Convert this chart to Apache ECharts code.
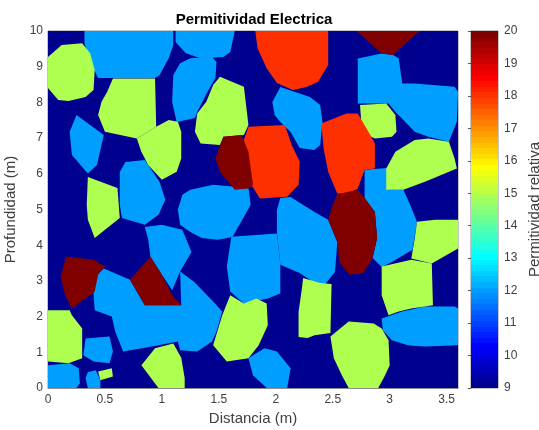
<!DOCTYPE html>
<html>
<head>
<meta charset="utf-8">
<script src="https://cdn.jsdelivr.net/npm/echarts@6/dist/echarts.min.js"></script>
<style>
  html, body { margin: 0; padding: 0; background: #ffffff; }
  #chart { width: 539px; height: 430px; }
</style>
</head>
<body>
<div id="chart"></div>
<script>
// Relative permittivity of each class of material
const permFondo = 9;
const permAzul = 12;
const permVerde = 15;
const permNaranja = 18;
const permGranate = 20;

// Section extent: distance (m) and depth (m)
const limitesX = [0, 3.6];
const limitesY = [0, 10];
const rangoColor = [9, 20];

// Tick values
const ticksX = [0, 0.5, 1, 1.5, 2, 2.5, 3, 3.5];
const ticksY = [0, 1, 2, 3, 4, 5, 6, 7, 8, 9, 10];
const ticksColor = [9, 10, 11, 12, 13, 14, 15, 16, 17, 18, 19, 20];

// Inclusion outlines, [distance, depth] vertices in metres
const poligonosAzul = [
  [[0.32,10],[0.32,9.66],[0.37,9.13],[0.44,8.68],[0.94,8.68],[0.98,8.77],[1.06,9.24],[1.10,9.61],[1.10,10]],
  [[1.12,10],[1.64,10],[1.60,9.41],[1.54,9.27],[1.34,9.24],[1.21,9.38],[1.12,9.69]],
  [[0.25,7.65],[0.49,7.09],[0.43,6.25],[0.35,6.01],[0.21,6.53],[0.19,7.18]],
  [[0.68,6.33],[0.85,6.39],[0.98,5.77],[1.03,5.27],[1.01,5.13],[0.97,4.85],[0.85,4.57],[0.65,4.76],[0.63,5.13],[0.63,6.05]],
  [[1.25,9.24],[1.44,9.27],[1.48,9.13],[1.47,8.68],[1.40,8.29],[1.31,7.73],[1.29,7.56],[1.13,7.45],[1.09,8.01],[1.10,8.77],[1.16,9.10]],
  [[1.97,8.01],[2.04,8.43],[2.17,8.29],[2.30,8.15],[2.39,7.93],[2.41,7.45],[2.39,6.81],[2.34,6.67],[2.21,6.72],[2.13,7.17],[2.04,7.45],[1.99,7.65]],
  [[2.72,9.23],[2.93,9.37],[3.03,9.33],[3.08,9.23],[3.11,8.53],[3.22,8.53],[3.57,8.44],[3.6,8.30],[3.59,7.46],[3.52,6.90],[3.34,7.04],[3.22,7.18],[3.05,7.74],[2.99,7.97],[2.72,7.97],[2.72,8.67]],
  [[2.78,6.11],[2.98,6.16],[2.99,5.55],[3.12,5.55],[3.18,5.13],[3.24,4.65],[3.20,3.87],[3.02,3.53],[2.93,3.39],[2.85,3.64],[2.89,4.20],[2.87,4.93],[2.78,5.32]],
  [[2.04,5.32],[2.13,5.35],[2.34,4.93],[2.46,4.71],[2.54,4.09],[2.52,3.25],[2.43,2.89],[2.34,2.94],[2.21,3.22],[2.04,3.45],[2.01,4.37],[2.01,4.99]],
  [[1.25,5.55],[1.45,5.69],[1.76,5.60],[1.78,5.13],[1.62,4.23],[1.49,4.15],[1.35,4.20],[1.25,4.37],[1.16,4.57],[1.14,4.99],[1.18,5.41]],
  [[1.61,4.24],[2.01,4.33],[2.04,3.45],[2.04,2.65],[1.93,2.51],[1.72,2.37],[1.60,2.70],[1.57,3.40]],
  [[1.76,0.83],[1.90,1.11],[2.01,1.02],[2.13,0.55],[2.10,0],[1.92,0],[1.80,0.36]],
  [[2.93,1.95],[3.11,2.14],[3.31,2.28],[3.57,2.28],[3.6,2.23],[3.6,1.20],[3.31,1.16],[3.16,1.20],[3.02,1.34],[2.94,1.62]],
  [[0,0.64],[0.19,0.69],[0.27,0.55],[0.28,0.13],[0.25,0],[0,0]],
  [[0.33,1.39],[0.54,1.44],[0.57,1.02],[0.54,0.69],[0.40,0.74],[0.31,0.92]],
  [[0.35,0.45],[0.42,0.50],[0.46,0.22],[0.46,0],[0.35,0],[0.33,0.28]],
  [[0.49,3.35],[0.72,3.03],[0.85,2.32],[1.17,2.32],[1.20,1.62],[1.14,1.30],[0.91,1.16],[0.66,1.02],[0.59,1.58],[0.56,2.00],[0.41,2.18],[0.40,2.65],[0.41,3.12]],
  [[1.16,3.26],[1.28,2.98],[1.45,2.42],[1.53,2.14],[1.48,1.58],[1.44,1.30],[1.31,1.02],[1.16,1.06],[1.14,1.30],[1.17,2.32]],
  [[0.85,4.51],[1.00,4.57],[1.18,4.43],[1.26,3.81],[1.16,3.26],[1.09,2.74],[1.00,3.17],[0.90,3.67],[0.88,4.15]]
];

const poligonosVerde = [
  [[0,9.27],[0.12,9.61],[0.30,9.66],[0.37,9.38],[0.41,8.91],[0.40,8.35],[0.33,8.15],[0.18,8.04],[0.09,8.07],[0,8.40]],
  [[0.57,8.67],[0.94,8.67],[0.95,7.32],[0.78,6.99],[0.50,7.18],[0.44,7.65],[0.47,8.02],[0.52,8.30]],
  [[0.95,7.32],[1.06,7.51],[1.14,7.46],[1.17,7.18],[1.17,6.43],[1.13,6.06],[1.00,5.83],[0.88,6.25],[0.82,6.62],[0.78,6.99]],
  [[0.35,5.91],[0.61,5.60],[0.63,4.76],[0.41,4.20],[0.35,4.71],[0.34,5.13]],
  [[1.51,8.72],[1.72,8.44],[1.76,7.37],[1.72,7.09],[1.54,7.04],[1.51,6.81],[1.34,6.85],[1.29,7.18],[1.31,7.69],[1.39,8.02],[1.45,8.49]],
  [[2.74,7.93],[2.97,7.97],[3.05,7.65],[3.06,7.18],[3.02,7.04],[2.87,6.99],[2.78,7.13],[2.75,7.46]],
  [[3.05,6.62],[3.22,6.95],[3.34,6.99],[3.52,6.90],[3.57,6.43],[3.59,6.15],[3.31,5.78],[3.12,5.55],[2.97,5.55],[2.97,6.15]],
  [[1.60,2.60],[1.72,2.37],[1.83,2.51],[1.92,2.37],[1.93,1.76],[1.85,1.20],[1.76,0.83],[1.57,0.74],[1.45,1.20],[1.53,2.04]],
  [[2.24,3.08],[2.39,2.94],[2.49,2.91],[2.48,1.54],[2.34,1.48],[2.28,1.40],[2.20,1.43],[2.20,2.13],[2.23,2.80]],
  [[3.24,4.66],[3.40,4.71],[3.6,4.71],[3.6,3.91],[3.37,3.49],[3.19,3.63],[3.22,4.19]],
  [[2.93,3.40],[3.19,3.59],[3.37,3.49],[3.38,2.32],[3.19,2.23],[3.08,2.14],[2.99,2.04],[2.93,2.60]],
  [[2.48,1.44],[2.64,1.86],[2.86,1.81],[2.93,1.67],[2.99,1.34],[3.00,0.64],[2.96,0.36],[2.90,0],[2.64,0],[2.58,0.36],[2.51,0.83]],
  [[0,2.18],[0.19,2.18],[0.21,2.04],[0.30,1.67],[0.30,0.83],[0.18,0.69],[0,0.74]],
  [[0.44,0.46],[0.56,0.55],[0.57,0.32],[0.46,0.22]],
  [[0.82,0.64],[0.94,1.11],[1.10,1.25],[1.17,0.85],[1.20,0.28],[1.20,0],[0.97,0]]
];

const poligonosNaranja = [
  [[1.76,7.32],[2.08,7.37],[2.14,6.81],[2.21,6.34],[2.20,5.69],[2.10,5.36],[1.86,5.31],[1.77,5.78],[1.72,6.95]],
  [[1.82,10],[2.46,10],[2.46,9.05],[2.37,8.57],[2.27,8.43],[2.15,8.35],[2.01,8.54],[1.92,8.96],[1.84,9.52]],
  [[2.40,7.41],[2.62,7.69],[2.72,7.69],[2.83,7.09],[2.87,6.85],[2.87,6.15],[2.78,6.11],[2.72,5.59],[2.64,5.45],[2.54,5.45],[2.46,6.06],[2.42,6.71]]
];

const poligonosGranate = [
  [[1.54,7.04],[1.70,7.09],[1.76,6.62],[1.80,5.69],[1.76,5.59],[1.64,5.55],[1.51,6.06],[1.47,6.43],[1.50,6.71]],
  [[2.71,10],[3.27,10],[3.22,9.89],[3.03,9.33],[2.93,9.37],[2.78,9.80]],
  [[2.54,5.43],[2.72,5.55],[2.78,5.32],[2.87,4.93],[2.89,4.20],[2.85,3.64],[2.77,3.22],[2.65,3.17],[2.56,3.50],[2.54,4.09],[2.46,4.71],[2.50,5.13]],
  [[0.16,3.68],[0.40,3.59],[0.50,3.40],[0.44,3.17],[0.41,2.70],[0.21,2.23],[0.15,2.60],[0.11,3.12]],
  [[0.90,3.68],[1.00,3.17],[1.09,2.60],[1.17,2.32],[0.85,2.32],[0.72,3.03]]
];

// MATLAB-style jet colormap with 64 rows
const NIVELES = 64;
function jetFila(k) {
  const n = NIVELES / 4;
  const u = i => {
    if (i < 1 || i > 3 * n - 1) return 0;
    if (i <= n) return i / n;
    if (i <= 2 * n - 1) return 1;
    return (3 * n - i) / n;
  };
  const g = u(k - n / 2);
  const r = u(k - n / 2 - n);
  const b = u(k - n / 2 + n);
  return 'rgb(' + Math.round(r * 255) + ',' + Math.round(g * 255) + ',' + Math.round(b * 255) + ')';
}
function colorPerm(v) {
  const t = (v - rangoColor[0]) / (rangoColor[1] - rangoColor[0]);
  const k = Math.max(1, Math.min(NIVELES, Math.floor(t * NIVELES) + 1));
  return jetFila(k);
}

// Region list drawn in order: background first, then the inclusions
const regiones = [{
  valor: permFondo,
  vertices: [[limitesX[0], limitesY[0]], [limitesX[1], limitesY[0]], [limitesX[1], limitesY[1]], [limitesX[0], limitesY[1]]]
}];
[[poligonosAzul, permAzul], [poligonosVerde, permVerde], [poligonosNaranja, permNaranja], [poligonosGranate, permGranate]]
  .forEach(([lista, valor]) => lista.forEach(v => regiones.push({ valor: valor, vertices: v })));

// Stepped gradient for the colour bar
const paradas = [];
for (let k = 1; k <= NIVELES; k++) {
  const c = jetFila(k);
  paradas.push({ offset: (k - 1) / NIVELES, color: c });
  paradas.push({ offset: k / NIVELES, color: c });
}

const grisEje = '#8c8c8c';
const grisTexto = '#404040';
const fuente = '"Liberation Sans", Arial, Helvetica, sans-serif';

const chart = echarts.init(document.getElementById('chart'), null, { renderer: 'canvas' });
chart.setOption({
  animation: false,
  backgroundColor: '#ffffff',
  title: {
    text: 'Permitividad Electrica',
    left: 249,
    textAlign: 'center',
    top: 7,
    textStyle: { fontFamily: fuente, fontSize: 15, fontWeight: 'bold', color: '#000000' }
  },
  grid: [
    { left: 48, top: 31, width: 410, height: 357, outerBoundsMode: 'none', containLabel: false,
      show: true, borderColor: grisEje, borderWidth: 1, backgroundColor: 'transparent' },
    { left: 471, top: 31, width: 27, height: 357, outerBoundsMode: 'none', containLabel: false,
      show: true, borderColor: grisEje, borderWidth: 1, backgroundColor: 'transparent' }
  ],
  xAxis: [
    {
      type: 'value', gridIndex: 0, min: limitesX[0], max: limitesX[1], interval: ticksX[1] - ticksX[0],
      name: 'Distancia (m)', nameLocation: 'middle', nameGap: 22,
      nameTextStyle: { fontFamily: fuente, fontSize: 15, color: grisTexto },
      axisLine: { show: true, lineStyle: { color: grisEje, width: 1 } },
      axisTick: { show: true, inside: true, length: 4, lineStyle: { color: grisEje } },
      axisLabel: { fontFamily: fuente, fontSize: 12, color: grisTexto, margin: 6, showMaxLabel: false,
        formatter: v => (ticksX.indexOf(v) >= 0 ? String(v) : '') },
      splitLine: { show: false }
    },
    {
      type: 'value', gridIndex: 1, min: 0, max: 1, show: false
    }
  ],
  yAxis: [
    {
      type: 'value', gridIndex: 0, min: limitesY[0], max: limitesY[1], interval: ticksY[1] - ticksY[0],
      name: 'Profundidad (m)', nameLocation: 'middle', nameGap: 14,
      nameTextStyle: { fontFamily: fuente, fontSize: 15, color: grisTexto },
      axisLine: { show: true, lineStyle: { color: grisEje, width: 1 } },
      axisTick: { show: true, inside: true, length: 4, lineStyle: { color: grisEje } },
      axisLabel: { fontFamily: fuente, fontSize: 12, color: grisTexto, margin: 5 },
      splitLine: { show: false }
    },
    {
      type: 'value', gridIndex: 1, position: 'right', min: rangoColor[0], max: rangoColor[1],
      interval: ticksColor[1] - ticksColor[0],
      name: 'Permitividad relativa', nameLocation: 'middle', nameRotate: 90, nameGap: 29,
      nameTextStyle: { fontFamily: fuente, fontSize: 15, color: grisTexto },
      axisLine: { show: true, lineStyle: { color: grisEje, width: 1 } },
      axisTick: { show: true, inside: true, length: 3, lineStyle: { color: '#555555' } },
      axisLabel: { fontFamily: fuente, fontSize: 12, color: grisTexto, margin: 6 },
      splitLine: { show: false }
    }
  ],
  series: [
    {
      type: 'custom',
      coordinateSystem: 'cartesian2d',
      xAxisIndex: 0, yAxisIndex: 0,
      clip: true,
      silent: true,
      z: 1,
      data: regiones.map(r => [r.vertices[0][0], r.vertices[0][1], r.valor]),
      renderItem: function (params, api) {
        const r = regiones[params.dataIndex];
        return {
          type: 'polygon',
          shape: { points: r.vertices.map(p => api.coord(p)) },
          style: { fill: colorPerm(r.valor), stroke: null }
        };
      }
    },
    {
      type: 'custom',
      coordinateSystem: 'cartesian2d',
      xAxisIndex: 1, yAxisIndex: 1,
      silent: true,
      z: 1,
      data: [[0, rangoColor[0]]],
      renderItem: function (params, api) {
        const p0 = api.coord([0, rangoColor[0]]);
        const p1 = api.coord([1, rangoColor[1]]);
        return {
          type: 'rect',
          shape: { x: p0[0], y: p1[1], width: p1[0] - p0[0], height: p0[1] - p1[1] },
          style: { fill: new echarts.graphic.LinearGradient(0, 1, 0, 0, paradas) }
        };
      }
    }
  ]
});
</script>
</body>
</html>
